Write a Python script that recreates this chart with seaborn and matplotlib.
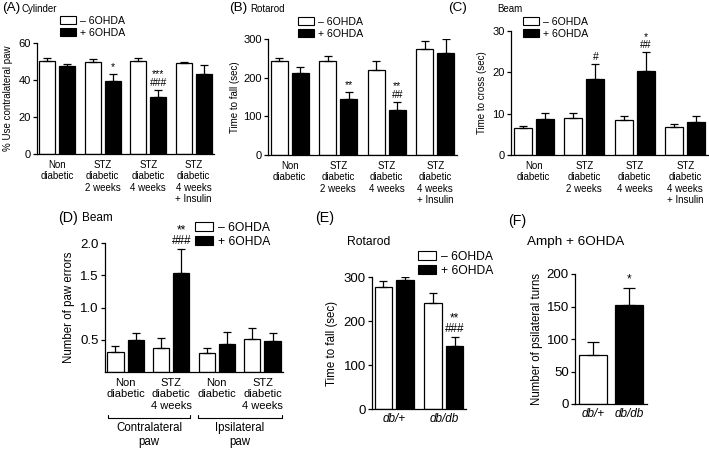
import numpy as np
import pandas as pd
import matplotlib
matplotlib.use('Agg')
import matplotlib.pyplot as plt
from matplotlib.patches import Patch
import seaborn as sns

# ---- data ----
treat = ['– 6OHDA', '+ 6OHDA']
stz_groups = ['Non\ndiabetic', 'STZ\ndiabetic\n2 weeks', 'STZ\ndiabetic\n4 weeks', 'STZ\ndiabetic\n4 weeks\n+ Insulin']

# (A) cylinder test, % use of contralateral paw
cyl_minus = [50.5, 50.0, 50.5, 49.3]
cyl_minus_sem = [1.2, 1.4, 1.4, 0.5]
cyl_plus = [47.5, 39.6, 31.0, 43.2]
cyl_plus_sem = [1.2, 3.6, 3.8, 5.0]
cyl_marks = ['', '*', '***\n###', '']

# (B) rotarod, time to fall (sec)
rot_minus = [242, 242, 220, 275]
rot_minus_sem = [9, 13, 23, 21]
rot_plus = [211, 146, 117, 263]
rot_plus_sem = [16, 17, 20, 37]
rot_marks = ['', '**', '**\n##', '']

# (C) beam, time to cross (sec)
beam_minus = [6.5, 8.9, 8.4, 6.8]
beam_minus_sem = [0.6, 1.2, 1.0, 0.6]
beam_plus = [8.6, 18.3, 20.4, 8.0]
beam_plus_sem = [1.6, 3.7, 4.4, 1.5]
beam_marks = ['', '#', '*\n##', '']

# (D) beam, number of paw errors
paw_keys = ['contra_non', 'contra_stz', 'ipsi_non', 'ipsi_stz']
paw_labels = ['Non\ndiabetic', 'STZ\ndiabetic\n4 weeks', 'Non\ndiabetic', 'STZ\ndiabetic\n4 weeks']
paw_minus = [0.31, 0.37, 0.29, 0.51]
paw_minus_sem = [0.09, 0.15, 0.08, 0.17]
paw_plus = [0.49, 1.54, 0.43, 0.48]
paw_plus_sem = [0.11, 0.37, 0.19, 0.12]
paw_marks = ['', '**\n###', '', '']
paw_sides = ['Contralateral\npaw', 'Ipsilateral\npaw']

# (E) rotarod in db/db mice
db_groups = ['db/+', 'db/db']
db_minus = [277, 242]
db_minus_sem = [13, 22]
db_plus = [294, 143]
db_plus_sem = [5, 21]
db_marks = ['', '**\n###']

# (F) amphetamine induced ipsilateral turns
amph_vals = [75, 152]
amph_sem = [20, 27]
amph_marks = ['', '*']

sns.set_theme(style='ticks')
plt.rcParams['font.family'] = ['Liberation Sans', 'DejaVu Sans']
plt.rcParams['axes.edgecolor'] = 'black'
plt.rcParams['text.color'] = 'black'
plt.rcParams['xtick.color'] = 'black'
plt.rcParams['ytick.color'] = 'black'
plt.rcParams['axes.labelcolor'] = 'black'

W, H = 709, 450
fig = plt.figure(figsize=(W / 100, H / 100), dpi=100)


def add_ax(left, top, right, bottom):
    return fig.add_axes([left / W, 1 - bottom / H, (right - left) / W, (bottom - top) / H])


def pair_bars(ax, cats, minus, minus_sem, plus, plus_sem, marks, markfs=7.5):
    n = len(cats)
    df = pd.DataFrame({'group': cats * 2,
                       'treatment': [treat[0]] * n + [treat[1]] * n,
                       'value': minus + plus})
    sns.barplot(data=df, x='group', y='value', hue='treatment', order=cats, hue_order=treat,
                palette=['white', 'black'], edgecolor='black', linewidth=0.9, width=0.88, gap=0.2,
                saturation=1, errorbar=None, legend=False, ax=ax)
    sems = [minus_sem, plus_sem]
    bar_sets = list(ax.containers)
    for k, cont in enumerate(bar_sets):
        for j, bar in enumerate(cont):
            x = bar.get_x() + bar.get_width() / 2
            h = bar.get_height()
            ax.errorbar(x, h, yerr=[[0], [sems[k][j]]], fmt='none', ecolor='black',
                        elinewidth=0.9, capsize=3, capthick=0.9)
            if k == 1 and marks[j]:
                ax.annotate(marks[j], (x, h + sems[k][j]), xytext=(0, 1.5), textcoords='offset points',
                            ha='center', va='bottom', fontsize=markfs, linespacing=0.8)


def style(ax, ylim, yticks, ylabel, label_right, left, width, yfs, lfs, xfs, xpad, xlim):
    ax.set_xlim(*xlim)
    ax.set_ylim(*ylim)
    ax.set_yticks(yticks)
    ax.set_xlabel('')
    ax.set_ylabel(ylabel, fontsize=lfs)
    ax.yaxis.set_label_coords((label_right - left) / width, 0.5)
    sns.despine(ax=ax)
    for s in ['left', 'bottom']:
        ax.spines[s].set_linewidth(0.9)
    ax.tick_params(axis='y', length=3, width=0.9, labelsize=yfs, pad=1.5)
    ax.tick_params(axis='x', length=0, labelsize=xfs, pad=xpad)


def legend_at(x, y, fs):
    handles = [Patch(facecolor='white', edgecolor='black', linewidth=0.8),
               Patch(facecolor='black', edgecolor='black', linewidth=0.8)]
    fig.legend(handles, treat, loc='upper left', bbox_to_anchor=(x / W, 1 - y / H),
               frameon=False, fontsize=fs, handlelength=1.5, handleheight=0.75,
               handletextpad=0.4, labelspacing=0.15, borderpad=0, borderaxespad=0)


# (A) Cylinder
ax = add_ax(37, 43, 214, 154)
pair_bars(ax, stz_groups, cyl_minus, cyl_minus_sem, cyl_plus, cyl_plus_sem, cyl_marks)
style(ax, (0, 60), [0, 20, 40, 60], '% Use contralateral paw', 13, 37, 177, 8, 7, 7, 4, (-0.45, 3.45))

# (B) Rotarod
ax = add_ax(268, 39, 457, 155)
pair_bars(ax, stz_groups, rot_minus, rot_minus_sem, rot_plus, rot_plus_sem, rot_marks)
style(ax, (0, 300), [0, 100, 200, 300], 'Time to fall (sec)', 240, 268, 189, 8, 7, 7, 4, (-0.45, 3.45))

# (C) Beam
ax = add_ax(511, 31, 708, 155)
pair_bars(ax, stz_groups, beam_minus, beam_minus_sem, beam_plus, beam_plus_sem, beam_marks)
style(ax, (0, 30), [0, 10, 20, 30], 'Time to cross (sec)', 487, 511, 197, 8, 7, 7, 4, (-0.45, 3.45))

# (D) Beam, paw errors
ax = add_ax(105, 243, 283, 372)
pair_bars(ax, paw_keys, paw_minus, paw_minus_sem, paw_plus, paw_plus_sem, paw_marks, markfs=8.5)
style(ax, (0, 2.0), [0.5, 1.0, 1.5, 2.0], 'Number of paw errors', 75, 105, 178, 9.5, 8.3, 8, 4,
      (-0.45, 3.45))
ax.set_xticks(range(len(paw_keys)))
ax.set_xticklabels(paw_labels)
tr = ax.get_xaxis_transform()
for (x0, x1), side in zip([(-0.38, 1.42), (1.58, 3.42)], paw_sides):
    ax.plot([x0, x0, x1, x1], [-0.33, -0.355, -0.355, -0.33], color='black', lw=0.8,
            transform=tr, clip_on=False)
    ax.text((x0 + x1) / 2, -0.39, side, transform=tr, ha='center', va='top', fontsize=8.3)

# (E) Rotarod, db/db
ax = add_ax(372, 277, 466, 409)
pair_bars(ax, db_groups, db_minus, db_minus_sem, db_plus, db_plus_sem, db_marks, markfs=8.5)
style(ax, (0, 300), [0, 100, 200, 300], 'Time to fall (sec)', 338, 372, 94, 9.5, 8.3, 8.5, 3,
      (-0.45, 1.45))
for t in ax.get_xticklabels():
    t.set_style('italic')

# (F) Amphetamine rotation
ax = add_ax(575, 274, 647, 404)
sns.barplot(x=db_groups, y=amph_vals, hue=db_groups, palette=['white', 'black'], edgecolor='black',
            linewidth=0.9, width=0.8, saturation=1, errorbar=None, legend=False, ax=ax)
for bar in list(ax.patches):
    x = bar.get_x() + bar.get_width() / 2
    i = int(round(x))
    h = bar.get_height()
    ax.errorbar(x, h, yerr=[[0], [amph_sem[i]]], fmt='none', ecolor='black',
                elinewidth=0.9, capsize=4, capthick=0.9)
    if amph_marks[i]:
        ax.annotate(amph_marks[i], (x, h + amph_sem[i]), xytext=(0, 1.5), textcoords='offset points',
                    ha='center', va='bottom', fontsize=8.5)
style(ax, (0, 200), [0, 50, 100, 150, 200], 'Number of psilateral turns', 543, 575, 72, 9.5, 8.3, 8.5, 3,
      (-0.5, 1.5))
for t in ax.get_xticklabels():
    t.set_style('italic')

# legends
legend_at(60, 16, 7.6)
legend_at(298, 17, 7.6)
legend_at(523, 17, 7.6)
legend_at(195, 222, 8.7)
legend_at(418, 251, 8.7)

# panel titles
def title(x, y, s, fs):
    fig.text(x / W, 1 - y / H, s, fontsize=fs, ha='left', va='top')

title(2, 2, '(A)', 9.7)
title(21, 4, 'Cylinder', 7)
title(229, 2, '(B)', 9.7)
title(250, 4, 'Rotarod', 7)
title(448, 2, '(C)', 9.7)
title(497, 4, 'Beam', 7)
title(58, 211, '(D)', 10.3)
title(82, 212, 'Beam', 8.5)
title(315, 211, '(E)', 10.3)
title(347, 236, 'Rotarod', 8.7)
title(508, 214, '(F)', 10.3)
title(527, 236, 'Amph + 6OHDA', 9.7)

fig.savefig('out.png', dpi=100)
